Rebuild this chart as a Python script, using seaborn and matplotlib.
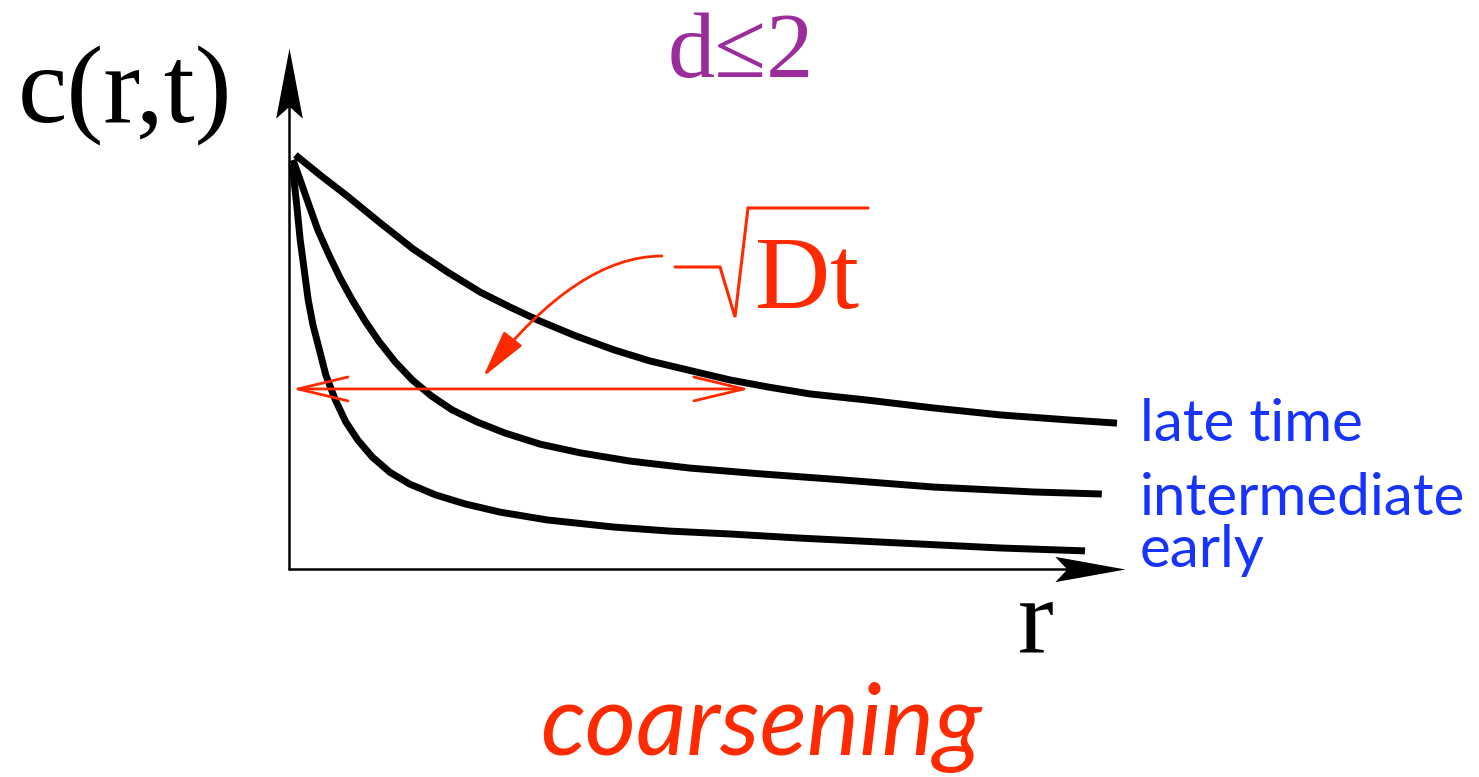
import numpy as np
import pandas as pd
import matplotlib
matplotlib.use("Agg")
import matplotlib.pyplot as plt
import seaborn as sns
from matplotlib.path import Path

# concentration profiles c(r,t) (r, c in arbitrary units)
r_late = [0.08, 0.39, 0.73, 1.14, 1.55, 1.98, 2.39, 2.76, 3.11, 3.58, 4.06, 4.51, 5.03,
          5.51, 5.98, 6.51, 7.23, 8.05, 8.89, 9.73, 10.35]
c_late = [1.005, 0.956, 0.905, 0.840, 0.777, 0.721, 0.672, 0.636, 0.604, 0.566, 0.532, 0.505, 0.481,
          0.459, 0.442, 0.425, 0.410, 0.391, 0.374, 0.362, 0.354]

r_mid = [0.05, 0.14, 0.25, 0.36, 0.50, 0.64, 0.79, 0.95, 1.13, 1.33, 1.54, 1.78, 2.04, 2.35,
         2.70, 3.14, 3.64, 4.26, 5.01, 5.89, 6.80, 8.05, 9.30, 10.16]
c_mid = [0.993, 0.944, 0.883, 0.823, 0.762, 0.706, 0.653, 0.602, 0.551, 0.502, 0.459, 0.420, 0.386, 0.357,
         0.330, 0.303, 0.282, 0.262, 0.245, 0.231, 0.218, 0.199, 0.187, 0.182]

r_early = [0.04, 0.09, 0.14, 0.19, 0.24, 0.30, 0.38, 0.46, 0.58, 0.71, 0.86, 1.04, 1.26, 1.51,
           1.83, 2.20, 2.64, 3.23, 4.05, 4.76, 5.51, 6.39, 7.64, 8.89, 9.95]
c_early = [0.981, 0.896, 0.799, 0.726, 0.653, 0.592, 0.532, 0.471, 0.410, 0.357, 0.313, 0.272, 0.235, 0.206,
           0.180, 0.158, 0.138, 0.119, 0.102, 0.092, 0.085, 0.075, 0.063, 0.051, 0.044]

stages = ["late time", "intermediate", "early"]
label_baselines = [441, 515, 567]   # pixel baselines of the stage labels

# diffusion length sqrt(Dt) shown as the red double arrow
dt_length = 5.76
dt_level = 0.437

RED = "#ff2a00"
BLUE = "#1633ff"
PURPLE = "#9b2c9b"
SERIF = ["Liberation Serif", "DejaVu Serif"]

W, H = 1479, 777


def px(x, y):
    # pixel position in the picture -> data units
    return (x - 289) / 80.0, (569 - y) / 412.0


sns.set_theme(style="white")
fig = plt.figure(figsize=(W / 100, H / 100), dpi=100)
ax = fig.add_axes([0, 0, 1, 1])
ax.set_xlim(px(0, 0)[0], px(W, 0)[0])
ax.set_ylim(px(0, H)[1], px(0, 0)[1])
ax.axis("off")

df = pd.concat([
    pd.DataFrame({"r": r_late, "c": c_late, "stage": stages[0]}),
    pd.DataFrame({"r": r_mid, "c": c_mid, "stage": stages[1]}),
    pd.DataFrame({"r": r_early, "c": c_early, "stage": stages[2]}),
])
sns.lineplot(data=df, x="r", y="c", hue="stage", palette={s: "black" for s in stages},
             estimator=None, sort=False, linewidth=5, legend=False, ax=ax,
             solid_capstyle="butt", solid_joinstyle="round")

# axes with notched arrow heads
r_max = px(1125, 0)[0]
c_max = px(0, 48)[1]
head_right = Path([(0, 0), (-1, 0.18), (-0.83, 0), (-1, -0.18), (0, 0)],
                  [Path.MOVETO, Path.LINETO, Path.LINETO, Path.LINETO, Path.CLOSEPOLY])
head_up = Path([(0, 0), (-0.19, -1), (0, -0.83), (0.19, -1), (0, 0)],
               [Path.MOVETO, Path.LINETO, Path.LINETO, Path.LINETO, Path.CLOSEPOLY])
ax.plot([0, r_max - 0.3], [0, 0], color="black", lw=1.8)
ax.plot([0, 0], [0, c_max - 0.05], color="black", lw=1.8)
ax.plot([r_max], [0], marker=head_right, ms=101, color="black", mew=0)
ax.plot([0], [c_max], marker=head_up, ms=101, color="black", mew=0)

# red double arrow for the diffusion length
ax.annotate("", xy=(dt_length, dt_level), xytext=(px(292, 0)[0], dt_level),
            arrowprops=dict(arrowstyle="<->,head_length=3.6,head_width=0.86",
                            color=RED, lw=2, shrinkA=0, shrinkB=0, mutation_scale=10))

# curved pointer from the sqrt(Dt) label
ax.annotate("", xy=px(483, 377), xytext=px(662, 256),
            arrowprops=dict(arrowstyle="-|>,head_length=3.0,head_width=0.72",
                            connectionstyle="angle3,angleA=0,angleB=52",
                            color=RED, lw=2, shrinkA=0, shrinkB=0, mutation_scale=10))

# radical sign drawn by hand, then Dt
rad = [px(675, 267), px(720, 267), px(735, 317), px(748, 208), px(868, 208)]
ax.plot([p[0] for p in rad], [p[1] for p in rad], color=RED, lw=2.2,
        solid_joinstyle="miter")
ax.text(*px(755, 308), "Dt", family=SERIF, fontsize=75, color=RED,
        ha="left", va="baseline")

# axis labels and title
ax.text(*px(18, 122), "c(r,t)", family=SERIF, fontsize=80, color="black",
        ha="left", va="baseline")
ax.text(*px(1018, 653), "r", family=SERIF, fontsize=78, color="black",
        ha="left", va="baseline")
ax.text(*px(668, 77), "d\u22642", family=SERIF, fontsize=68, color=PURPLE,
        ha="left", va="baseline")

for name, base in zip(stages, label_baselines):
    ax.text(*px(1140, base), name, family="Lato", fontsize=42, color=BLUE,
            ha="left", va="baseline")

ax.text(*px(540, 755), "coarsening", family="Lato", style="italic", fontsize=71,
        color=RED, ha="left", va="baseline")

fig.savefig("out.png", dpi=100)
